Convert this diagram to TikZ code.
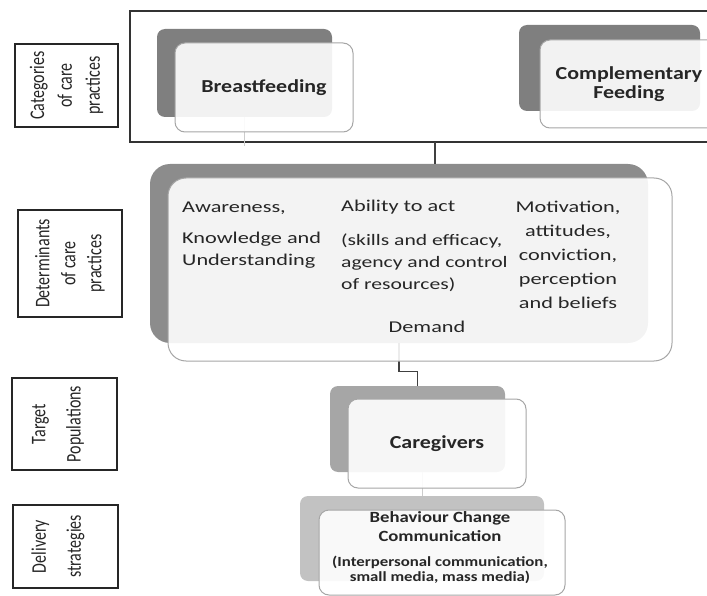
\documentclass[tikz,border=0pt]{standalone}
\usepackage{fontspec}
\setmainfont[FakeStretch=1.2]{Carlito}
\newfontfamily\widefont[FakeStretch=1.35]{Carlito}
\newfontfamily\plainfont{Carlito}
\definecolor{backdark}{HTML}{7F7F7F}
\definecolor{backmid}{HTML}{8C8C8C}
\definecolor{backlight}{HTML}{A6A6A6}
\definecolor{backpale}{HTML}{C2C2C2}

\begin{document}
\begin{tikzpicture}[x=1pt, y=-1pt, text=black!85,
  labelbox/.style={draw=black!85, line width=1.4pt, inner sep=0pt},
  labeltext/.style={rotate=90, yscale=1.3, align=center, inner sep=0pt, font=\plainfont\fontsize{16}{21.5}\selectfont},
  backbox/.style={fill=#1, rounded corners=8pt, inner sep=0pt},
  frontbox/.style={draw=black!35, line width=1pt, fill=white, fill opacity=0.9, text opacity=1, rounded corners=10pt, inner sep=0pt, align=center, font=\bfseries\fontsize{18.3}{19}\selectfont},
  dettext/.style={inner sep=0pt, font=\widefont\fontsize{16.5}{17}\selectfont},
  conn/.style={draw=black!75, line width=1.3pt},
  faint/.style={draw=black!20, line width=1pt}]
%			\draw[help lines] (0,0) grid (707,596);
			\clip (0,0) rectangle (707,596);
			% labels on the left
			\node[labelbox, minimum width=103pt, minimum height=83pt] (cat-box) at (66.5,85.5) {};
			\node[labeltext] (cat-text) at (cat-box) {Categories\\of care\\practices};
			\node[labelbox, minimum width=104pt, minimum height=107pt] (det-box) at (70,263.5) {};
			\node[labeltext, font=\plainfont\fontsize{16}{20}\selectfont] (det-text) at (det-box) {Determinants\\of care\\practices};
			\node[labelbox, minimum width=105pt, minimum height=92pt] (tgt-box) at (64.5,424) {};
			\node[labeltext, font=\plainfont\fontsize{16}{27}\selectfont] (tgt-text) at (58,424) {Target\\Populations};
			\node[labelbox, minimum width=105pt, minimum height=83pt] (dlv-box) at (65.5,546.5) {};
			\node[labeltext, font=\plainfont\fontsize{16}{27}\selectfont] (dlv-text) at (58,546.5) {Delivery\\strategies};
			% care practices
			\node[draw=black!80, line width=1.5pt, minimum width=590pt, minimum height=131pt, inner sep=0pt] (top-frame) at (425,76.5) {};
			\node[backbox=backdark, minimum width=175pt, minimum height=88pt] (bf-back) at (244.5,73) {};
			\node[backbox=backdark, minimum width=181pt, minimum height=86pt] (cf-back) at (609.5,68) {};
			\coordinate (bf-tail) at (244.5,146);
			\draw[faint] (bf-back.south) -- (bf-tail);
			\node[frontbox, minimum width=178pt, minimum height=89pt] (bf) at (264,87.5) {Breastfeeding};
			\node[frontbox, minimum width=178pt, minimum height=88pt] (cf) at (629,84) {Complementary\\Feeding};
			% determinants
			\coordinate (top-out) at (435,142);
			\node[backbox=backmid, rounded corners=20pt, minimum width=498pt, minimum height=179pt] (det-back) at (399,253.5) {};
			\draw[conn] (top-out) -- (top-out |- det-back.north);
			\node[backbox=backlight, minimum width=175pt, minimum height=86pt] (cg-back) at (417.5,429) {};
			\draw[conn] (det-back.south) -- ++(0,28) -| (cg-back.north);
			\node[frontbox, rounded corners=18pt, minimum width=504pt, minimum height=183pt] (det) at (420,269.5) {};
			\node[dettext, anchor=north west, align=left, font=\widefont\fontsize{16.5}{22}\selectfont] (aware) at (182,202) {Awareness,\\[9pt]Knowledge and\\Understanding};
			\node[dettext, anchor=north west] (ability) at (341,200) {Ability to act};
			\node[dettext, anchor=north west, align=left, font=\widefont\fontsize{16}{22}\selectfont] (ability-note) at (341,234) {(skills and efficacy,\\agency and control\\of resources)};
			\node[dettext, anchor=north, align=center, font=\widefont\fontsize{16.5}{24}\selectfont] (motiv) at (568,201) {Motivation,\\attitudes,\\conviction,\\perception\\and beliefs};
			\node[dettext, anchor=base] (demand) at (427,332) {Demand};
			% target populations and delivery
			\node[backbox=backpale, minimum width=244pt, minimum height=85pt] (bcc-back) at (422,538.5) {};
			\draw[faint] (bcc-back.north |- cg-back.south) -- (bcc-back.north);
			\node[frontbox, minimum width=178pt, minimum height=89pt] (cg) at (437,443.5) {Caregivers};
			\node[frontbox, minimum width=246pt, minimum height=85pt] (bcc) at (442,552.5) {};
			\node[align=center, inner sep=0pt, font=\bfseries\fontsize{15.6}{19}\selectfont] (bcc-title) at (440,527) {Behaviour Change\\Communication};
			\node[align=center, inner sep=0pt, font=\bfseries\fontsize{14}{15}\selectfont] (bcc-note) at (440,570) {(Interpersonal communication,\\small media, mass media)};
		\end{tikzpicture}
\end{document}
